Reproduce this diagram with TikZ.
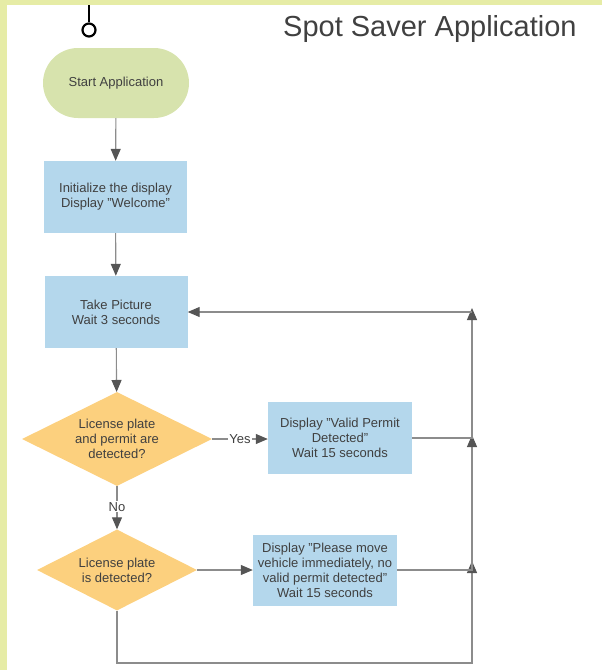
\documentclass[tikz,border=0pt]{standalone}
\usepackage{fontspec}
\setmainfont{Liberation Sans}
\usetikzlibrary{shapes.geometric,arrows.meta}
\definecolor{bordercol}{HTML}{E6ECA6}
\definecolor{startfill}{HTML}{D7E3AD}
\definecolor{procfill}{HTML}{B4D7EC}
\definecolor{decfill}{HTML}{FCD07E}
\definecolor{txtgray}{HTML}{404040}
\definecolor{linegray}{HTML}{8C8C8C}
\definecolor{tipgray}{HTML}{555555}
\tikzset{
  base/.style={align=center, text=txtgray, font=\fontsize{13}{15}\selectfont, inner sep=0pt},
  term/.style={base, rectangle, rounded corners=35pt, fill=startfill, minimum width=146pt, minimum height=70pt},
  proc/.style={base, rectangle, fill=procfill, minimum width=143pt, minimum height=72pt},
  dec/.style={base, diamond, shape aspect=2, fill=decfill},
  arr/.style={draw=linegray, line width=1.1pt, -{Triangle[length=12pt,width=10pt,color=tipgray]}},
  lbl/.style={base, fill=white, inner sep=1pt},
}
\begin{document}
\begin{tikzpicture}[x=1pt,y=-1pt]
\useasboundingbox (0,0) rectangle (602,670);
\fill[bordercol] (0,0) rectangle (7,670);
\fill[bordercol] (0,0) rectangle (602,5);

\node[anchor=base west, text=txtgray, font=\fontsize{29}{33}\selectfont, inner sep=0pt] (title) at (283,36) {Spot Saver Application};

\coordinate (top) at (89,5);
\node[circle, draw=black, line width=2.2pt, minimum size=13pt, inner sep=0pt] (c0) at (89,30) {};
\draw[black, line width=2pt] (top) -- (c0.north);

\node[term] (start) at (116,83) {Start Application};
\node[proc] (init) at (115.5,197) {Initialize the display\\Display "Welcome"};
\node[proc] (take) at (116,312) {Take Picture\\Wait 3 seconds};
\node[dec, minimum width=190pt, minimum height=94pt] (d1) at (117,439) {License plate\\and permit are\\detected?};
\node[proc, minimum width=144pt] (valid) at (340,438) {Display "Valid Permit\\Detected"\\Wait 15 seconds};
\node[dec, minimum width=160pt, minimum height=81pt] (d2) at (117,570) {License plate\\is detected?};
\node[proc, minimum width=144pt, minimum height=71pt] (please) at (325,570.5) {Display "Please move\\vehicle immediately, no\\valid permit detected"\\Wait 15 seconds};

\coordinate (b1) at (117,663);
\coordinate (b2) at (472,663);
\coordinate (j3) at (472,561);
\coordinate (m3) at (472,570);
\coordinate (j2) at (472,435);
\coordinate (m2) at (472,438);
\coordinate (j1) at (472,308);
\coordinate (m1) at (472,312);

\draw[arr] (start) -- (init);
\draw[arr] (init) -- (take);
\draw[arr] (take) -- (d1);
\draw[arr] (d1.east) -- node[lbl] {Yes} (d1.east -| valid.west);
\draw[arr] (d1) -- node[lbl, pos=0.48] {No} (d2);
\draw[arr] (d2.east) -- (d2.east -| please.west);
\draw[arr] (d2.south) -- (b1) -- (b2) -- (j3);
\draw[arr] (please.east |- m3) -- (m3) -- (j2);
\draw[arr] (valid.east |- m2) -- (m2) -- (j1);
\draw[arr] (m1) -- (take.east |- m1);
\end{tikzpicture}
\end{document}
